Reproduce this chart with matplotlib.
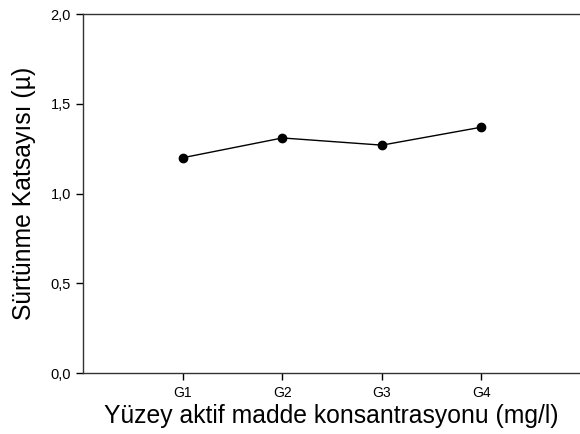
import matplotlib
matplotlib.use('Agg')
import matplotlib.pyplot as plt
from matplotlib.ticker import FuncFormatter

# friction coefficient per surfactant group
gruplar = ['G1', 'G2', 'G3', 'G4']
konum = [1, 2, 3, 4]
surtunme = [1.20, 1.31, 1.27, 1.37]

plt.rcParams['font.family'] = ['Liberation Sans', 'DejaVu Sans']

fig = plt.figure(figsize=(5.8, 4.34), dpi=100)
ax = fig.add_axes([83.3 / 580, 1 - 373.3 / 434, (580 - 83.3) / 580, (373.3 - 14) / 434])

ax.plot(konum, surtunme, color='black', lw=1.0, marker='o', ms=6, mfc='black', mec='black')

ax.set_xlim(0, 4.99)
ax.set_ylim(0, 2.0)
ax.set_xticks(konum)
ax.set_xticklabels(gruplar)
ax.set_yticks([0, 0.5, 1.0, 1.5, 2.0])
ax.yaxis.set_major_formatter(FuncFormatter(lambda v, p: f'{v:.1f}'.replace('.', ',')))

for s in ['left', 'bottom', 'top']:
    ax.spines[s].set_linewidth(1.0)
    ax.spines[s].set_color('#333333')
ax.spines['right'].set_visible(False)
ax.tick_params(direction='out', length=5, width=1.0, pad=4)
ax.tick_params(axis='y', labelsize=10.5)
ax.tick_params(axis='x', labelsize=10)

ax.set_xlabel('Yüzey aktif madde konsantrasyonu (mg/l)', fontsize=17.8, labelpad=3)
ax.set_ylabel('Sürtünme Katsayısı (µ)', fontsize=17.8, labelpad=10)

fig.savefig('out.png', dpi=100)
